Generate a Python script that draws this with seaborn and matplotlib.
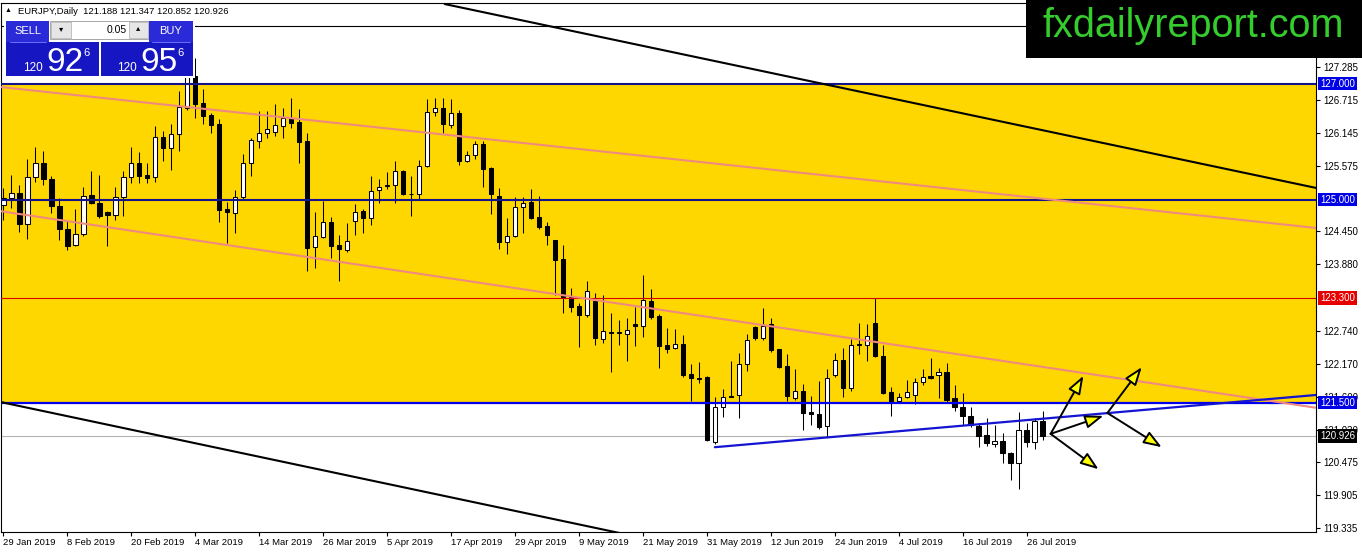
import numpy as np
import pandas as pd
import matplotlib
matplotlib.use("Agg")
import matplotlib.pyplot as plt
from matplotlib.patches import Rectangle, FancyArrowPatch
import seaborn as sns

# ---------------- data (EURJPY daily) ----------------
opens = [124.91, 125.03, 125.11, 124.58, 125.39, 125.63, 125.35, 124.89, 124.49, 124.22,
         124.41, 125.08, 124.94, 124.79, 124.73, 125.04, 125.39, 125.63, 125.42, 125.39,
         126.08, 125.89, 126.13, 126.58, 127.13, 126.66, 126.46, 126.30, 124.84, 124.77,
         125.04, 125.63, 126.01, 126.15, 126.16, 126.27, 126.41, 126.34, 126.01, 124.18,
         124.35, 124.61, 124.22, 124.13, 124.63, 124.80, 124.68, 125.16, 125.23, 125.25,
         125.49, 125.10, 125.10, 125.58, 126.51, 126.58, 126.29, 126.49, 125.66, 125.77,
         125.96, 125.54, 125.06, 124.27, 124.37, 124.87, 124.96, 124.70, 124.54, 124.30,
         123.97, 123.32, 123.16, 123.01, 123.25, 122.60, 122.72, 122.70, 122.68, 122.85,
         122.82, 123.25, 122.99, 122.49, 122.44, 122.51, 121.99, 121.92, 121.94, 120.82,
         121.42, 121.62, 121.63, 122.16, 122.80, 122.61, 122.85, 122.42, 122.13, 121.58,
         121.70, 121.33, 121.30, 121.10, 121.97, 122.23, 121.75, 122.49, 122.49, 122.87,
         122.30, 121.68, 121.53, 121.60, 121.63, 121.85, 121.95, 121.97, 122.03, 121.58,
         121.42, 121.27, 121.10, 120.94, 120.79, 120.84, 120.63, 120.46, 121.03, 120.82,
         121.188]
highs = [125.20, 125.42, 125.25, 125.70, 125.91, 125.84, 125.41, 125.03, 124.63, 124.84,
         125.22, 125.49, 125.42, 124.80, 125.22, 125.49, 125.91, 125.82, 125.63, 126.27,
         126.18, 126.30, 126.87, 127.49, 127.44, 126.91, 126.49, 126.39, 124.96, 125.16,
         125.79, 126.06, 126.53, 126.53, 126.65, 126.58, 126.75, 126.56, 126.15, 124.79,
         124.98, 124.70, 124.39, 124.60, 124.92, 124.84, 125.41, 125.35, 125.48, 125.66,
         125.51, 125.41, 125.68, 126.73, 126.75, 126.75, 126.73, 126.54, 125.84, 126.01,
         126.01, 125.56, 125.20, 124.68, 125.04, 125.04, 125.18, 125.06, 124.61, 124.31,
         124.22, 123.47, 123.22, 123.60, 123.39, 123.35, 123.04, 122.92, 122.96, 123.15,
         123.70, 123.46, 123.03, 122.78, 122.77, 122.66, 122.16, 122.20, 121.96, 121.60,
         121.73, 122.22, 122.35, 122.68, 122.82, 123.13, 122.96, 122.43, 122.34, 122.08,
         121.82, 121.61, 121.87, 122.08, 122.35, 122.44, 122.60, 122.87, 122.85, 123.30,
         122.49, 121.77, 121.66, 121.89, 121.92, 122.08, 122.27, 122.10, 122.18, 121.80,
         121.66, 121.42, 121.15, 121.23, 121.11, 120.97, 120.64, 121.34, 121.15, 121.23,
         121.347]
lows = [124.65, 124.85, 124.44, 124.32, 125.30, 125.25, 124.77, 124.30, 124.13, 124.20,
        124.37, 124.92, 124.68, 124.20, 124.65, 124.72, 125.29, 125.29, 125.29, 125.30,
        125.66, 125.51, 125.84, 126.54, 126.41, 126.30, 126.15, 124.61, 124.25, 124.42,
        125.00, 125.41, 125.89, 126.06, 126.10, 126.06, 126.23, 125.63, 123.77, 123.82,
        124.33, 123.99, 123.60, 124.10, 124.39, 124.42, 124.56, 124.94, 125.18, 124.94,
        125.08, 124.72, 125.01, 125.56, 126.44, 126.15, 126.23, 125.60, 125.65, 125.70,
        125.22, 124.75, 124.15, 124.06, 124.35, 124.42, 124.66, 124.49, 124.22, 123.35,
        123.04, 123.06, 122.46, 122.97, 122.49, 122.53, 122.03, 122.49, 122.22, 122.47,
        122.63, 122.94, 122.10, 122.35, 122.42, 121.94, 121.53, 121.84, 120.84, 120.79,
        121.25, 121.59, 121.23, 122.04, 122.58, 122.58, 122.37, 122.09, 121.53, 121.54,
        121.03, 121.11, 121.04, 120.91, 121.94, 121.60, 121.70, 122.34, 122.22, 122.29,
        121.65, 121.27, 121.51, 121.58, 121.47, 121.80, 121.91, 121.58, 121.49, 121.35,
        121.11, 121.07, 120.73, 120.75, 120.73, 120.46, 120.16, 120.01, 120.73, 120.70,
        120.852]
closes = [125.03, 125.11, 124.58, 125.39, 125.63, 125.35, 124.89, 124.49, 124.20, 124.41,
          125.06, 124.94, 124.72, 124.73, 125.04, 125.39, 125.63, 125.41, 125.37, 126.08,
          125.89, 126.13, 126.60, 127.11, 126.65, 126.44, 126.29, 124.82, 124.79, 125.04,
          125.63, 126.03, 126.15, 126.22, 126.29, 126.41, 126.32, 125.99, 124.16, 124.37,
          124.61, 124.20, 124.15, 124.29, 124.79, 124.68, 125.15, 125.22, 125.24, 125.49,
          125.10, 125.09, 125.58, 126.51, 126.58, 126.30, 126.49, 125.66, 125.77, 125.96,
          125.53, 125.10, 124.27, 124.37, 124.87, 124.94, 124.68, 124.53, 124.39, 123.96,
          123.32, 123.15, 123.01, 123.42, 122.61, 122.73, 122.70, 122.71, 122.75, 122.82,
          123.27, 122.97, 122.47, 122.42, 122.51, 121.97, 121.92, 121.91, 120.85, 121.42,
          121.60, 121.60, 122.16, 122.58, 122.61, 122.82, 122.41, 122.11, 121.61, 121.70,
          121.32, 121.31, 121.08, 121.92, 122.23, 121.75, 122.49, 122.51, 122.65, 122.30,
          121.66, 121.53, 121.60, 121.68, 121.85, 121.94, 121.93, 122.03, 121.54, 121.42,
          121.27, 121.11, 120.92, 120.80, 120.84, 120.63, 120.46, 121.03, 120.82, 121.18,
          120.926]

date_tick_bars = [0, 8, 16, 24, 32, 40, 48, 56, 64, 72, 80, 88, 96, 104, 112, 120, 128]
date_tick_labels = ["29 Jan 2019", "8 Feb 2019", "20 Feb 2019", "4 Mar 2019", "14 Mar 2019",
                    "26 Mar 2019", "5 Apr 2019", "17 Apr 2019", "29 Apr 2019", "9 May 2019",
                    "21 May 2019", "31 May 2019", "12 Jun 2019", "24 Jun 2019", "4 Jul 2019",
                    "16 Jul 2019", "26 Jul 2019"]
price_ticks = [127.285, 126.715, 126.145, 125.575, 124.450, 123.880, 122.740, 122.170,
               121.600, 121.030, 120.475, 119.905, 119.335]

zone_top, zone_bottom = 127.0, 121.5
level_prices = [127.0, 125.0, 123.3, 121.5]
level_colors = ["#14148a", "#14148a", "#d40000", "#0000ee"]
level_label_colors = ["#0000e6", "#0000e6", "#e60000", "#0000e6"]
level_widths = [1.5, 1.5, 0.8, 1.6]
top_line_price = 128.0

# trendlines: (bar0, price0, bar1, price1)
black_channel = [(55.2, 128.37, 164.2, 125.20), (-0.4, 121.51, 77.1, 119.25)]
pink_channel = [(-0.4, 126.94, 164.2, 124.51), (-0.4, 124.80, 164.2, 121.41)]
blue_trend = (89.0, 120.73, 164.2, 121.63)

# scenario arrows: (bar0, price0, bar1, price1)
arrows = [(131.0, 120.96, 135.1, 121.96), (131.0, 120.96, 137.6, 121.27),
          (131.0, 120.96, 137.0, 120.35), (138.1, 121.32, 142.4, 122.11),
          (138.1, 121.32, 144.9, 120.73)]

# ---------------- figure ----------------
sns.set_style("white")
plt.rcParams["font.family"] = ["Liberation Sans", "DejaVu Sans"]

W, H = 1362, 553
fig = plt.figure(figsize=(W / 100, H / 100), dpi=100)
ax = fig.add_axes([1 / W, (H - 532) / H, 1315 / W, 529 / H])
ax.set_xlim(-0.3, 164.2)
ax.set_ylim(119.268, 128.388)
ax.set_facecolor("white")

df = pd.DataFrame({"open": opens, "high": highs, "low": lows, "close": closes})
df["bar"] = np.arange(len(df))
up = df["close"] >= df["open"]

# yellow zone
ax.axhspan(zone_bottom, zone_top, color="#FFD700", zorder=0.5, lw=0)

# candles
ax.vlines(df["bar"], df["low"], df["high"], color="black", lw=0.75, zorder=3)
body_bottom = np.minimum(df["open"], df["close"])
body_h = np.maximum((df["close"] - df["open"]).abs(), 0.012)
ax.bar(df["bar"], body_h, bottom=body_bottom, width=0.55,
       color=np.where(up, "white", "black"), edgecolor="black", linewidth=0.75, zorder=4)

# horizontal levels
ax.axhline(top_line_price, color="black", lw=0.8, zorder=5)
for p, c, w in zip(level_prices, level_colors, level_widths):
    ax.axhline(p, color=c, lw=w, zorder=5)
ax.axhline(closes[-1], color="#b4b4b4", lw=0.8, zorder=2)

# trendlines
for b0, p0, b1, p1 in black_channel:
    ax.plot([b0, b1], [p0, p1], color="black", lw=1.5, zorder=6)
for b0, p0, b1, p1 in pink_channel:
    ax.plot([b0, b1], [p0, p1], color="#f08a80", lw=1.5, zorder=6)
ax.plot([blue_trend[0], blue_trend[2]], [blue_trend[1], blue_trend[3]], color="#1414d2", lw=1.6, zorder=6)

# arrows
for b0, p0, b1, p1 in arrows:
    ar = FancyArrowPatch((b0, p0), (b1, p1), arrowstyle="-|>,head_length=11,head_width=4",
                         mutation_scale=1, facecolor="#ffff00", edgecolor="black", lw=1.4,
                         shrinkA=0, shrinkB=0, zorder=8, clip_on=False)
    ax.add_patch(ar)

# axes styling
for s in ax.spines.values():
    s.set_visible(True)
    s.set_color("black")
    s.set_linewidth(0.8)
ax.yaxis.tick_right()
ax.set_yticks(price_ticks)
ax.set_yticklabels([f"{v:.3f}" for v in price_ticks])
ax.set_xticks(date_tick_bars)
ax.set_xticklabels(date_tick_labels)
for lbl in ax.get_xticklabels():
    lbl.set_ha("left")
ax.tick_params(axis="y", direction="out", length=3, width=0.8, pad=2, labelsize=7, colors="black")
ax.tick_params(axis="x", direction="out", length=3, width=0.8, pad=1.5, labelsize=6.8, colors="black")
ax.tick_params(axis="x", bottom=True)
ax.tick_params(axis="y", right=True)

# level labels on price axis
for p, c in zip(level_prices, level_label_colors):
    ax.annotate(f"{p:.3f}", xy=(1, p), xycoords=("axes fraction", "data"), xytext=(4, 0),
                textcoords="offset pixels", ha="left", va="center", fontsize=7, color="white",
                bbox=dict(boxstyle="square,pad=0.2", fc=c, ec="none"), zorder=10, annotation_clip=False)
ax.annotate(f"{closes[-1]:.3f}", xy=(1, closes[-1]), xycoords=("axes fraction", "data"), xytext=(4, 0),
            textcoords="offset pixels", ha="left", va="center", fontsize=7, color="white",
            bbox=dict(boxstyle="square,pad=0.2", fc="black", ec="none"), zorder=10, annotation_clip=False)

# ---------------- overlay: header, trade panel, logo ----------------
ov = fig.add_axes([0, 0, 1, 1], zorder=20)
ov.set_xlim(0, W)
ov.set_ylim(H, 0)
ov.axis("off")
ov.patch.set_alpha(0)

ov.text(5, 11, "\u25B2", fontsize=5, va="center", ha="left", color="black")
ov.text(18, 11, f"EURJPY,Daily  {opens[-1]:.3f} {highs[-1]:.3f} {lows[-1]:.3f} {closes[-1]:.3f}",
        fontsize=6.8, va="center", ha="left", color="black")

ov.add_patch(Rectangle((4, 19), 191, 59, fc="white", ec="none"))
btn = "#2a2ad8"
box = "#1616c2"
ov.add_patch(Rectangle((6, 21), 43, 21, fc=btn, ec="none"))
ov.add_patch(Rectangle((149, 21), 44, 21, fc=btn, ec="none"))
ov.add_patch(Rectangle((50, 21), 98, 18, fc="white", ec="#a8a8a8", lw=0.7))
ov.add_patch(Rectangle((51, 22), 20, 16, fc="#e6e6e6", ec="#b8b8b8", lw=0.6))
ov.add_patch(Rectangle((129, 22), 19, 16, fc="#e6e6e6", ec="#b8b8b8", lw=0.6))
ov.text(61, 30, "\u25BE", fontsize=6, ha="center", va="center", color="black")
ov.text(138.5, 29, "\u25B4", fontsize=6, ha="center", va="center", color="black")
ov.text(127, 30, "0.05", fontsize=7.5, ha="right", va="center", color="black")
ov.add_patch(Rectangle((6, 42), 93, 34, fc=box, ec="none"))
ov.add_patch(Rectangle((101, 42), 92, 34, fc=box, ec="none"))
ov.plot([10, 46], [42, 42], color="#7c7cff", lw=0.6)
ov.plot([152, 190], [42, 42], color="#7c7cff", lw=0.6)
ov.text(27.5, 31, "SELL", fontsize=8, ha="center", va="center", color="white")
ov.text(171, 31, "BUY", fontsize=8, ha="center", va="center", color="white")
for x0, big in [(23, "92"), (117, "95")]:
    ov.text(x0, 71, "120", fontsize=8.5, ha="left", va="baseline", color="white")
    ov.text(x0 + 23, 71, big, fontsize=24, ha="left", va="baseline", color="white")
    ov.text(x0 + 60, 56, "6", fontsize=8, ha="left", va="baseline", color="white")

ov.add_patch(Rectangle((1026, 0), W - 1026, 58, fc="black", ec="none"))
ov.text(1193, 37, "fxdailyreport.com", fontsize=28.5, ha="center", va="baseline", color="#35cc2e")

fig.savefig("out.png", dpi=100)
